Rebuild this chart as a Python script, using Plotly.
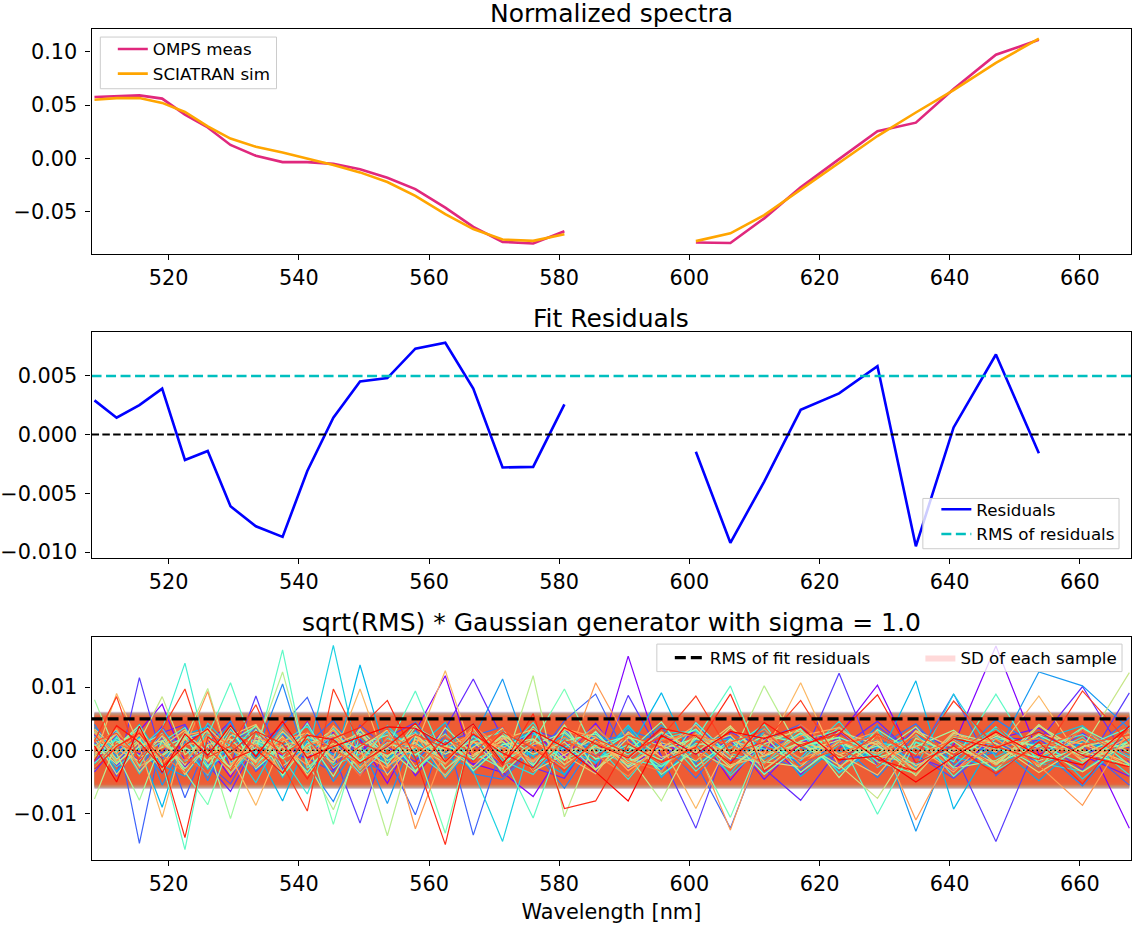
import math
import plotly.graph_objects as go

# wavelength grid [nm]
wavelength = [508.6, 512.0, 515.5, 519.0, 522.5, 526.0, 529.5, 533.4, 537.5, 541.3,
              545.3, 549.4, 553.6, 557.9, 562.5, 566.8, 571.3, 576.0, 580.8, 585.6,
              590.6, 595.7, 601.0, 606.3, 611.5, 617.1, 623.0, 628.9, 634.8, 640.6,
              647.1, 653.7, 660.4, 667.6]

# normalized spectra (None = window not used in fit)
omps_meas = [0.0575, 0.058, 0.059, 0.056, 0.041, 0.029, 0.0127, 0.0025, -0.0034, -0.0034,
             -0.005, -0.010, -0.018, -0.0286, -0.046, -0.064, -0.078, -0.0795, -0.068, None,
             None, None, -0.0786, -0.079, -0.056, -0.027, -0.0006, 0.0255, 0.0335, 0.065,
             0.097, 0.111, None, None]
sciatran_sim = [0.055, 0.0565, 0.0565, 0.052, 0.0435, 0.030, 0.0186, 0.011, 0.0056, 0.0,
                -0.006, -0.013, -0.022, -0.035, -0.052, -0.066, -0.0758, -0.077, -0.0708, None,
                None, None, -0.0773, -0.070, -0.053, -0.029, -0.004, 0.021, 0.043, 0.064,
                0.0894, 0.112, None, None]

residuals = [0.0029, 0.00143, 0.0025, 0.0039, -0.00216, -0.0014, -0.0061, -0.0078, -0.0087, -0.0031,
             0.00143, 0.0045, 0.0048, 0.0073, 0.0078, 0.0039, -0.0028, -0.00275, 0.00256, None,
             None, None, -0.00146, -0.0092, -0.0040, 0.0021, 0.0035, 0.0058, -0.0095, 0.0006,
             0.0068, -0.0016, None, None]
rms_residuals = 0.00497

# Gaussian samples (values in 1e-3)
samples_e3 = [
    [1.2, -2.5, 3.1, 7.3, -1.8, 0.6, -4.2, 2.2, -0.9, 4.5, -3.1, 1.7, -5.2, 2.9, 11.8, -2.1, -3.5, -7.3, 0.4, -2.6, 14.9, -1.4, 3.3, -4.7, 1.9, -3.8, 2.4, 10.3, -2.2, 0.8, 16.5, -0.7, 3.1, -12.3],
    [-1.9, 2.4, -0.6, 3.8, -2.7, 1.1, 4.6, -3.3, 0.8, -1.4, 2.9, -0.2, 3.1, -4.0, 1.6, -2.3, 0.5, 2.7, -1.1, 4.3, -2.8, 0.9, -0.3, 2.2, -4.6, 1.3, 3.0, -1.7, 0.6, -2.9, 1.8, 3.5, -0.8, -4.1],
    [-3.4, 0.9, -1.6, 2.8, 4.1, -2.2, -6.5, 1.1, 3.6, -0.4, 2.0, -3.9, 0.5, -1.8, 3.4, 11.3, 1.9, -2.7, -4.4, 3.0, -1.2, 2.5, -0.6, 1.4, -2.9, -7.9, 0.3, 4.6, -1.0, -3.3, 2.2, 1.5, 10.1, -2.0],
    [2.6, -4.1, 11.5, -1.3, 0.8, 3.9, -2.4, 8.6, -3.0, 1.2, -0.5, -11.5, 2.1, 4.4, -1.7, 0.9, -2.3, 3.2, 1.6, -3.6, 8.7, -0.8, -12.3, 2.9, 0.4, -1.9, 12.2, -2.6, 3.5, -0.2, -14.4, 1.8, -3.1, 9.1],
    [2.3, -3.6, 1.0, -0.4, 3.9, -2.1, -5.3, 1.8, 2.6, -1.2, -3.4, 4.0, 0.3, -2.5, 1.4, 2.8, -4.2, 0.6, 3.3, -0.9, 1.7, -3.0, 4.4, -1.6, 0.2, 2.5, -2.2, 3.8, -0.7, -4.4, 1.2, -1.9, 2.7, 0.4],
    [-0.7, 3.2, -14.7, 2.4, -7.5, 1.3, 0.2, -2.8, 4.0, 8.4, -1.6, 2.9, -0.9, -10.2, 3.3, -13.4, 1.0, -2.1, 4.7, 8.9, -1.5, 3.6, -2.0, -12.3, 1.7, 4.1, -3.4, 0.6, -1.2, 8.9, -4.0, 2.3, 0.7, -5.5],
    [-0.4, 1.7, -3.2, 2.9, 0.6, -4.0, 1.3, 3.4, -2.6, 0.9, 4.8, -1.5, -3.6, 1.0, -0.8, 2.3, 3.7, -2.9, 0.1, -1.8, 3.2, 1.4, -4.4, 2.0, -0.6, -3.1, 1.9, 0.5, 4.2, -2.2, -0.3, 3.0, -1.4, 5.2],
    [4.1, -1.2, 0.5, -3.6, 2.7, -4.8, 3.3, -0.6, 10.5, -2.2, -8.1, 0.8, 3.5, -1.4, 2.1, -3.7, -4.6, 0.2, -6.0, 1.5, 2.4, -3.1, 4.2, -0.7, 3.0, -2.5, 1.1, -4.3, 2.6, -1.7, 4.9, 0.4, -5.6, 3.2],
    [-2.9, 0.6, 3.8, -5.5, 1.4, -0.8, 4.7, -3.2, 0.9, 2.6, -4.9, 1.2, -8.4, 3.1, -0.3, 1.8, 11.3, -2.4, 0.7, -1.1, 3.9, -4.3, 1.6, 2.2, -3.7, 0.5, -2.8, 4.0, -12.8, 1.9, -0.6, 12.4, 10.2, 3.4],
    [3.6, -0.8, 2.1, -2.4, -4.1, 0.7, 2.6, -1.3, 3.9, -3.5, 0.4, 1.9, -2.0, 4.5, -1.1, -2.7, 0.8, 3.1, -3.9, 2.2, -0.5, 4.0, -1.9, 0.6, 3.3, -2.4, -0.1, 1.7, -3.2, 2.8, 0.9, -4.8, 1.5, -0.7],
    [1.8, -3.3, 0.4, -9.0, 2.5, 3.7, -1.9, 0.1, -8.0, 1.6, -2.7, 13.5, -1.3, 2.0, -4.4, 0.8, 3.2, -1.0, -3.8, 2.7, -0.2, 9.1, -2.6, 1.3, 3.5, -4.1, 0.9, -1.6, 11.0, -9.3, 2.1, -3.0, 1.4, -0.8],
    [-2.2, 0.3, 4.1, -1.5, 2.4, -3.0, 0.9, 2.7, -4.3, 1.6, -0.7, 3.2, -2.6, 0.2, 4.4, -3.4, 1.1, -0.9, 2.5, -2.1, 3.6, -4.2, 0.8, 1.9, -1.4, 3.5, -3.6, 0.4, 2.2, -1.0, -2.8, 1.6, 3.9, -2.5],
    [-1.5, 2.2, -3.7, 1.1, -2.0, 4.3, 0.6, -5.1, 2.8, -0.9, 16.6, -2.4, 3.9, -0.5, 1.7, -3.3, -14.4, 2.6, 0.3, -1.9, 4.0, -2.2, 0.8, -3.6, 2.9, 1.0, -0.4, 3.1, -2.7, 8.9, -1.1, 2.4, -4.5, 1.7],
    [1.1, -2.6, 0.2, 3.5, -1.9, 2.8, -3.7, 0.5, 1.4, 3.8, -2.3, -0.6, 2.9, -3.1, 0.7, 4.2, -1.6, -3.8, 1.9, 0.3, -2.4, 2.6, 3.1, -4.0, 0.9, -1.2, 4.6, -2.7, 1.3, 0.1, 3.4, -2.0, -3.3, 1.8],
    [3.0, -0.2, 1.9, -2.8, 0.3, -3.9, 2.4, 1.5, -1.1, -6.9, 3.6, -1.8, 0.7, 2.9, -3.0, 1.3, -0.6, 4.4, -2.3, 0.9, -4.6, 1.8, 3.2, -0.5, -2.0, 2.7, -3.5, 1.2, 0.4, -2.6, 3.8, -1.3, 2.1, -3.9],
    [0.5, 1.6, -2.4, 3.3, 13.8, -1.0, 0.2, -2.6, 3.5, -0.4, 2.3, -3.1, 1.9, -0.8, 2.6, -1.5, 0.4, 3.0, -2.9, 1.1, -0.7, 2.8, -3.3, 1.5, 0.2, -1.6, 3.7, -0.9, -2.1, 1.4, -3.2, 0.6, 2.5, -1.2],
    [-3.1, 2.0, -0.9, 1.3, 3.6, -2.4, -0.5, 4.0, -3.3, 2.1, 0.6, -1.8, 3.4, -0.2, -3.9, 1.5, 2.9, -2.2, 0.4, 3.7, -1.3, -2.6, 1.1, 0.3, 4.1, -3.5, 1.0, -0.8, 2.6, -4.1, 1.9, 0.7, -2.0, 2.9],
    [-2.0, 0.8, 3.4, -1.7, -15.7, 2.3, 10.7, -0.6, 15.9, -2.8, 1.0, -3.6, 0.4, 9.4, -1.9, 2.2, -0.8, -10.7, 3.1, -1.4, 0.9, -2.5, 1.8, 10.2, -3.0, 0.6, 2.0, -10.1, 1.3, -1.8, 8.9, -2.2, 0.5, 3.6],
    [0.6, 3.3, -2.5, -0.7, 1.9, 3.0, -3.6, 1.2, -1.0, 4.3, -2.8, 0.9, 2.4, -3.3, 1.6, -0.4, -2.9, 3.8, -1.5, 0.8, 2.3, -3.4, 4.4, -0.9, -2.1, 1.5, 3.2, -1.8, -3.7, 2.4, 0.2, -1.1, 3.6, -2.3],
    [2.2, -1.9, 0.6, 2.7, -3.4, -8.6, 1.5, 3.8, -0.3, 1.9, -11.7, 2.5, -1.6, 0.8, -13.1, 3.4, -2.0, 1.2, 9.7, -0.5, 2.6, -3.8, 0.1, -10.6, 2.4, 1.1, -2.9, 3.3, -0.6, 1.7, -2.4, 4.1, -1.5, 0.9],
    [-0.8, 2.9, -1.1, 0.4, 2.0, -2.7, 3.1, -1.9, 0.6, -3.4, 1.8, 0.3, -2.2, 3.7, 0.9, -1.4, 2.3, -3.0, 1.5, 2.6, -1.8, 0.4, 3.4, -2.3, -0.9, 2.8, -1.2, 0.7, -3.1, 2.0, 1.1, -2.6, 3.5, -0.3],
    [2.9, -1.4, 1.7, -3.2, 0.5, -1.6, 3.8, -2.9, 0.7, 2.0, -4.1, 3.3, -0.8, 1.2, -2.2, 3.1, -3.6, 0.9, 2.8, -1.3, -0.2, 4.5, -2.6, 1.8, -3.8, 0.7, 2.1, -0.5, 3.7, -2.8, -1.6, 2.4, -0.9, 1.3],
    [8.0, -0.5, -7.9, 1.6, -2.9, 0.8, -10.8, 2.4, -1.3, 0.5, 3.3, -2.0, 1.2, -0.7, 2.5, -3.2, 0.9, 1.8, -1.6, 3.0, -2.7, 0.2, 1.9, -0.4, 2.3, -3.5, 1.4, -1.1, 0.6, 3.2, -2.1, 1.0, -0.5, 2.7],
    [-1.0, 0.7, 3.9, -2.2, 2.8, -0.3, -2.6, 3.3, -4.0, 1.1, 2.5, -1.7, 0.4, -3.5, 3.6, -0.6, 1.4, -2.4, 4.0, -3.0, 0.6, -1.5, 2.3, -2.7, 1.0, 3.4, -4.3, 2.6, -0.8, 1.5, -3.1, 3.9, -0.2, -2.4],
    [-7.7, 1.3, 2.6, -0.9, 1.7, 9.8, -2.1, 0.4, 12.4, -1.8, -9.4, 0.7, -13.5, 2.2, -0.6, 1.5, -3.3, 11.8, -10.5, 1.9, -0.8, -8.0, 2.7, -1.4, 10.2, -0.3, 1.6, -2.5, 3.0, -1.0, 2.2, 0.5, -3.4, 1.4],
    [0.9, -2.2, 1.4, 8.5, -0.7, 2.1, -3.0, 1.6, -0.2, 2.8, -1.5, 0.4, 3.2, -2.6, 0.7, -1.0, 2.4, -0.6, 1.3, -3.1, 2.0, 0.8, -1.7, 3.6, -0.9, 1.2, -2.3, -7.6, 1.9, -0.4, 2.5, -1.6, 0.3, 12.3],
    [1.9, -3.8, 0.8, 1.5, -2.3, 3.6, 0.1, -1.6, 2.2, -3.9, 0.8, 2.7, -1.1, 4.1, -2.9, 0.5, 3.5, -3.3, -0.7, 2.0, -2.5, 1.2, -0.4, 3.9, -1.8, -2.6, 3.0, 0.9, -4.0, 2.7, 1.1, -3.5, 0.6, 2.2],
    [3.4, 0.2, -1.7, 2.3, -3.8, 0.9, 1.8, -2.1, 3.0, -0.8, 1.1, -2.7, 0.5, 2.6, -1.9, 3.5, -0.4, 1.7, -2.2, 0.6, -1.3, 2.9, -0.1, -2.8, 1.6, 3.1, -0.7, 1.5, -2.4, 0.3, -1.9, 2.6, 1.0, -2.1],
    [-0.5, 2.6, -3.4, 0.6, 3.2, -1.8, 2.3, 4.1, -2.5, 0.3, -1.9, 3.5, -3.9, 1.7, 0.2, -2.6, 1.8, 3.3, -0.8, -3.7, 2.9, -1.1, 0.7, 2.4, -3.0, 1.4, -0.6, -3.9, 3.1, 0.5, -2.2, 4.0, -1.7, 0.8],
    [-1.3, 9.0, 0.7, -10.6, 2.4, 3.1, -0.9, -8.7, 1.5, 2.8, -1.2, 9.7, -2.5, 0.6, 12.6, -0.8, 2.0, -1.7, 3.3, 1.4, -2.1, 0.9, -9.2, 1.7, -0.5, 10.7, -2.6, 1.2, -3.0, 2.9, -0.3, 8.6, -1.8, 2.1],
    [3.2, -1.7, 2.5, -2.9, 0.9, 1.4, -3.8, 2.0, 0.5, -2.3, 3.9, -0.4, -2.8, 2.6, -4.2, 1.3, 0.6, -1.9, 3.4, 2.1, -3.2, 0.3, 4.0, -2.4, -0.8, 2.3, 3.6, -1.5, 0.7, -3.4, 2.8, -0.9, 1.6, -2.7],
    [2.7, -0.6, 3.1, -1.9, 0.5, 9.3, -2.3, 1.0, -3.4, 0.8, 2.2, -1.4, 3.6, -12.4, 0.3, 2.7, -1.1, 0.6, -2.8, 10.7, 1.3, -2.0, 0.7, -12.6, 2.5, -1.3, 0.9, 3.0, -11.0, 0.2, 1.8, -2.4, -8.7, 3.3],
    [0.4, 3.5, -2.8, 0.9, -1.6, 2.0, 0.3, -2.7, 1.9, -0.6, 3.2, -2.9, 1.1, 0.8, -2.3, 3.9, 0.2, -1.5, 2.1, -0.7, -4.1, 1.6, 2.6, -0.9, 3.4, -2.2, 1.5, -0.6, 2.3, -3.1, 0.7, 1.9, -1.2, 2.8],
    [-2.7, 0.4, 3.0, -0.8, -3.5, 2.6, 1.0, -2.2, 3.7, -1.3, 0.9, -4.0, 2.2, 0.6, -1.7, 3.2, -2.5, 1.1, -0.3, 3.8, -1.6, -3.3, 2.5, 0.9, -2.2, 4.1, -0.5, 1.8, -3.6, 2.3, 0.8, -2.1, 3.3, -1.0],
    [-2.4, 1.1, -0.3, 2.6, -1.0, -3.7, 2.9, 0.6, -1.8, 3.0, 0.1, -2.1, 1.7, -0.4, 2.4, -1.9, 3.3, 0.5, -2.6, 1.2, -0.9, 2.3, -1.5, 3.1, 0.8, -2.7, 1.0, 2.2, -0.8, 1.6, -2.5, 0.4, 3.0, -1.6],
    [1.4, 2.7, -1.2, 3.1, -2.0, 0.3, -3.1, 2.9, -0.6, 1.8, -2.6, 0.7, 3.5, -2.9, 2.0, -0.5, 3.9, -3.2, 1.6, -1.0, 2.4, 0.5, -3.7, 1.3, 3.0, -1.9, 0.2, -2.5, 2.7, -0.7, 4.0, -3.0, 0.9, 2.5],
    [1.5, 8.5, -2.0, 3.4, 9.7, -1.1, 0.7, 7.2, -2.3, -9.6, 9.7, 1.2, -0.6, 2.5, 0.4, -1.8, 2.9, 0.3, -3.2, 1.8, -0.4, 2.1, 8.6, -0.5, 1.3, 7.9, -1.7, 2.6, -0.9, 7.8, 0.6, -1.5, 9.4, 1.1],
    [-3.0, 0.6, 2.7, -1.4, -13.8, 2.1, -0.3, 3.0, 1.1, -4.5, 1.9, 3.6, 7.9, -1.2, -14.9, 3.8, -2.4, 5.8, -9.2, -8.0, 1.0, -1.9, 0.5, 8.9, -3.3, 0.9, 2.6, 8.8, -2.0, 0.7, -3.7, 1.3, -5.3, 3.9],
    [-1.6, 3.9, 1.3, -2.7, 0.8, 3.4, -1.5, 0.2, -3.6, 2.4, 1.7, -2.0, 0.6, 4.3, -1.8, 2.6, -0.4, -2.8, 3.6, 1.0, -1.2, 3.5, 2.3, -2.1, 4.4, 0.6, 3.2, -1.4, -3.3, 1.9, 0.4, 2.9, -0.8, -2.6],
    [0.7, -5.0, 3.8, -3.5, 2.6, -0.8, 3.9, -1.0, 4.6, -1.2, 0.6, 2.1, 3.7, 3.5, 0.9, 4.2, -2.0, 3.1, 0.5, -3.4, -8.0, 2.4, -0.6, 3.0, 1.9, 3.7, -1.5, -0.9, -5.0, -1.0, 2.9, -0.8, -2.3, 3.8],
]
# SD of each sample (1e-3)
sample_sd_e3 = [6.1, 5.4, 5.8, 6.0, 5.2, 5.7, 5.5, 5.9, 5.1, 5.6, 5.3, 6.0, 5.8, 5.4, 5.6, 5.9, 5.2, 5.7, 5.5, 6.1,
                5.3, 5.8, 5.6, 5.0, 5.9, 5.4, 5.7, 6.0, 5.2, 5.5, 5.8, 5.3, 5.6, 6.1, 5.1, 5.9, 5.4, 5.7, 6.0, 5.5]

x_ticks = [520, 540, 560, 580, 600, 620, 640, 660]
y1_ticks = [-0.05, 0.00, 0.05, 0.10]
y2_ticks = [-0.010, -0.005, 0.000, 0.005]
y3_ticks = [-0.01, 0.00, 0.01]
xlim = [508.15, 667.9]

W, H = 1133, 927
FONT = "DejaVu Sans"


def py(px):
    return 1 - px / H


def px_x(px):
    return px / W


def rainbow(t, a=1.0):
    r = min(1, abs(2 * t - 0.5))
    g = math.sin(math.pi * t)
    b = math.cos(math.pi * t / 2)
    return "rgba(%d,%d,%d,%g)" % (round(255 * r), round(255 * g), round(255 * max(b, 0)), a)


fig = go.Figure()

# --- panel 1
fig.add_trace(go.Scatter(x=wavelength, y=omps_meas, mode="lines", name="OMPS meas",
                         line=dict(color="#e0287d", width=2.6), xaxis="x", yaxis="y", legend="legend"))
fig.add_trace(go.Scatter(x=wavelength, y=sciatran_sim, mode="lines", name="SCIATRAN sim",
                         line=dict(color="#ffa500", width=2.6), xaxis="x", yaxis="y", legend="legend"))

# --- panel 2
fig.add_trace(go.Scatter(x=wavelength, y=residuals, mode="lines", name="Residuals",
                         line=dict(color="#0000ff", width=2.6), xaxis="x2", yaxis="y2", legend="legend2"))
fig.add_trace(go.Scatter(x=xlim, y=[0, 0], mode="lines", showlegend=False,
                         line=dict(color="black", width=2, dash="7.5px,3.3px"), xaxis="x2", yaxis="y2"))
fig.add_trace(go.Scatter(x=xlim, y=[rms_residuals] * 2, mode="lines", name="RMS of residuals",
                         line=dict(color="#00bfbf", width=2.6, dash="10px,4.5px"), xaxis="x2", yaxis="y2",
                         legend="legend2"))

# --- panel 3
n = len(samples_e3)
for i, sd in enumerate(sample_sd_e3):
    s = sd * 1e-3
    last = i == n - 1
    fig.add_trace(go.Scatter(x=wavelength + wavelength[::-1], y=[s] * len(wavelength) + [-s] * len(wavelength),
                             mode="lines", fill="toself", fillcolor=rainbow(i / (n - 1), 0.15),
                             line=dict(width=0), hoverinfo="skip",
                             name="SD of each sample", showlegend=last,
                             xaxis="x3", yaxis="y3", legend="legend4"))
for i, vals in enumerate(samples_e3):
    fig.add_trace(go.Scatter(x=wavelength, y=[v * 1e-3 for v in vals], mode="lines", showlegend=False,
                             line=dict(color=rainbow(i / (n - 1)), width=1.2), xaxis="x3", yaxis="y3"))
fig.add_trace(go.Scatter(x=xlim, y=[0, 0], mode="lines", showlegend=False,
                         line=dict(color="black", width=1.4, dash="1.5px,3px"), xaxis="x3", yaxis="y3"))
fig.add_trace(go.Scatter(x=xlim, y=[rms_residuals] * 2, mode="lines", name="RMS of fit residuals",
                         line=dict(color="black", width=3.2, dash="11px,5px"),
                         xaxis="x3", yaxis="y3", legend="legend3"))

xdom = [89.7 / W, 1131.3 / W]
axis_style = dict(showline=True, linecolor="black", linewidth=1.1, mirror=True, ticks="outside",
                  ticklen=5, tickwidth=1.1, tickcolor="black", showgrid=False, zeroline=False,
                  tickfont=dict(family=FONT, size=20.8, color="black"))
legend_style = dict(bgcolor="rgba(0,0,0,0)", borderwidth=0, font=dict(family=FONT, size=16.7),
                    xanchor="left", yanchor="middle")

layout = dict(
    width=W, height=H, margin=dict(l=0, r=0, t=0, b=0),
    paper_bgcolor="white", plot_bgcolor="white",
    font=dict(family=FONT, color="black"),
    xaxis=dict(domain=xdom, anchor="y", range=xlim, tickvals=x_ticks, **axis_style),
    yaxis=dict(domain=[py(255.3), py(29.3)], anchor="x", range=[-0.089, 0.121],
               tickvals=y1_ticks, tickformat=".2f", ticklabelstandoff=4, **axis_style),
    xaxis2=dict(domain=xdom, anchor="y2", range=xlim, tickvals=x_ticks, **axis_style),
    yaxis2=dict(domain=[py(561.7), py(334.3)], anchor="x2", range=[-0.0105, 0.0087],
                tickvals=y2_ticks, tickformat=".3f", ticklabelstandoff=4, **axis_style),
    xaxis3=dict(domain=xdom, anchor="y3", range=xlim, tickvals=x_ticks,
                title=dict(text="Wavelength [nm]", font=dict(family=FONT, size=20.8), standoff=9),
                **axis_style),
    yaxis3=dict(domain=[py(866), py(640.7)], anchor="x3", range=[-0.0174, 0.018],
                tickvals=y3_ticks, tickformat=".2f", ticklabelstandoff=4, **axis_style),
    legend=dict(x=px_x(111), y=py(62), **legend_style),
    legend2=dict(x=px_x(936), y=py(525.3), **legend_style),
    legend3=dict(x=px_x(669), y=py(662), **legend_style),
    legend4=dict(x=px_x(920), y=py(662), **legend_style),
    showlegend=True,
)
fig.update_layout(**layout)

# legend frames (matplotlib style)
frames = [(98.5, 37.3, 275, 89.3), (922.5, 501.7, 1119, 552.3), (656, 648.3, 1122, 676)]
for x0, y0, x1, y1 in frames:
    fig.add_shape(type="rect", xref="paper", yref="paper", layer="above",
                  x0=px_x(x0), x1=px_x(x1), y0=py(y1), y1=py(y0),
                  fillcolor="rgba(255,255,255,0.8)", line=dict(color="#cccccc", width=1))

xc = (xdom[0] + xdom[1]) / 2
titles = [("Normalized spectra", 14), ("Fit Residuals", 321),
          ("sqrt(RMS) * Gaussian generator with sigma = 1.0", 627)]
for text, ypx in titles:
    fig.add_annotation(text=text, xref="paper", yref="paper", x=xc, y=py(ypx),
                       xanchor="center", yanchor="middle", showarrow=False,
                       font=dict(family=FONT, size=25, color="black"))

fig.write_html("out.html", config={"displayModeBar": False},
               post_script="document.body.style.margin='0px';")
